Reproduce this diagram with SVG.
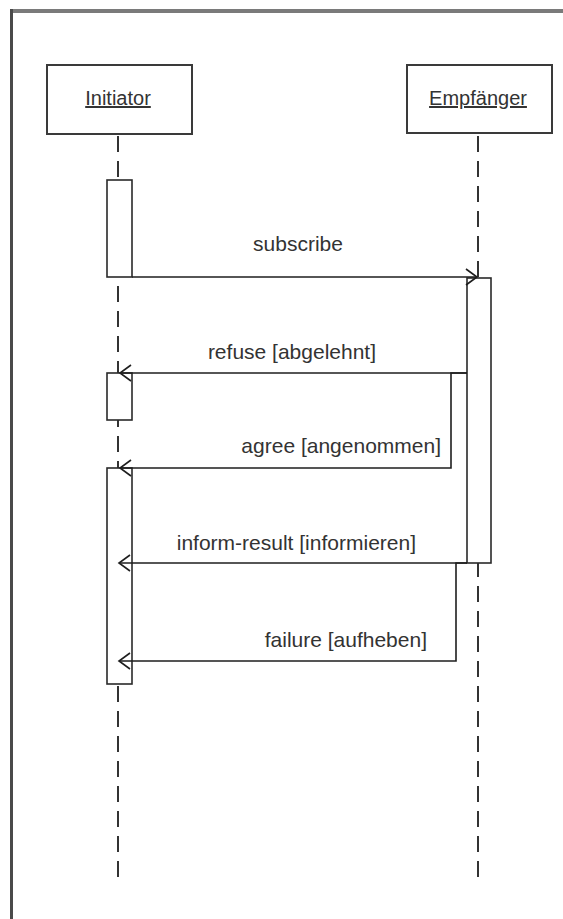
<svg xmlns="http://www.w3.org/2000/svg" width="563" height="919" viewBox="0 0 563 919">
  <style>
    .obj { fill: #ffffff; stroke: #3a3a3a; stroke-width: 2; }
    .act { fill: #ffffff; stroke: #2a2a2a; stroke-width: 1.6; }
    .life { fill: none; stroke: #333333; stroke-width: 2; stroke-dasharray: 16 9; }
    .msg { fill: none; stroke: #1e1e1e; stroke-width: 1.6; }
    .name { font-family: "Liberation Sans", Arial, sans-serif; font-size: 20px; fill: #333333; text-anchor: middle; text-decoration: underline; }
    .label { font-family: "Liberation Sans", Arial, sans-serif; font-size: 21px; fill: #333333; }
  </style>
  <defs>
    <marker id="open" markerUnits="userSpaceOnUse" markerWidth="30" markerHeight="30" viewBox="-15 -15 30 30" refX="0" refY="0" orient="auto">
      <path d="M-11,-8 L0,0 L-11,8" fill="none" stroke="#1e1e1e" stroke-width="1.6"/>
    </marker>
  </defs>

  <rect x="0" y="0" width="563" height="919" fill="#ffffff"/>

  <!-- frame -->
  <rect x="10" y="9" width="553" height="4" fill="#7a7a7a"/>
  <rect x="10" y="9" width="3" height="910" fill="#4a4a4a"/>

  <!-- lifelines -->
  <g id="lifelines">
    <line class="life" x1="118" y1="136" x2="118" y2="880"/>
    <line class="life" x1="478" y1="136" x2="478" y2="880"/>
  </g>

  <g id="initiator">
    <rect class="obj" x="47" y="65" width="145" height="69"/>
    <text class="name" x="118" y="105">Initiator</text>
  </g>

  <g id="empfaenger">
    <rect class="obj" x="407" y="65" width="145" height="68"/>
    <text class="name" x="478" y="105">Empfänger</text>
  </g>

  <!-- activation bars -->
  <g id="initiator-activation-1"><rect class="act" x="107" y="180" width="25" height="97"/></g>
  <g id="initiator-activation-2"><rect class="act" x="107" y="373" width="25" height="47"/></g>
  <g id="initiator-activation-3"><rect class="act" x="107" y="468" width="25" height="216"/></g>
  <g id="empfaenger-activation"><rect class="act" x="467" y="278" width="24" height="285"/></g>

  <!-- messages -->
  <g id="connectors">
    <line class="msg" x1="132" y1="277" x2="477" y2="277" marker-end="url(#open)"/>
    <line class="msg" x1="467" y1="373" x2="120" y2="373" marker-end="url(#open)"/>
    <path class="msg" d="M467,373 H451 V468 H120" marker-end="url(#open)"/>
    <line class="msg" x1="467" y1="563" x2="119" y2="563" marker-end="url(#open)"/>
    <path class="msg" d="M467,563 H456 V661 H119" marker-end="url(#open)"/>
  </g>

  <g id="labels">
    <text class="label" x="298" y="251" text-anchor="middle">subscribe</text>
    <text class="label" x="376" y="359" text-anchor="end">refuse [abgelehnt]</text>
    <text class="label" x="441" y="453" text-anchor="end">agree [angenommen]</text>
    <text class="label" x="416" y="550" text-anchor="end">inform-result [informieren]</text>
    <text class="label" x="427" y="647" text-anchor="end">failure [aufheben]</text>
  </g>
</svg>
